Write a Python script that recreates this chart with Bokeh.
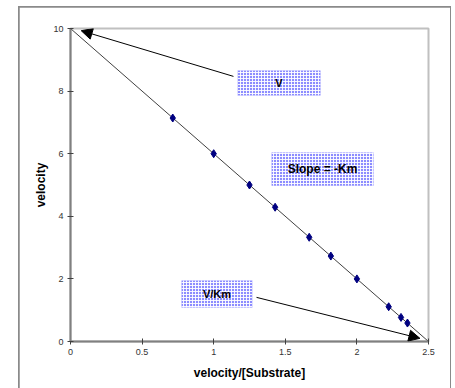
from bokeh.plotting import figure
from bokeh.models import (BoxAnnotation, Label, Arrow, NormalHead, FixedTicker, Range1d)
from bokeh.embed import file_html
from bokeh.resources import INLINE

# Eadie-Hofstee data: velocity against velocity/[Substrate]
v_over_s = [0.714, 1.0, 1.25, 1.429, 1.667, 1.818, 2.0, 2.222, 2.308, 2.353]
velocity = [7.14, 6.0, 5.0, 4.29, 3.33, 2.73, 2.0, 1.11, 0.77, 0.59]
v_max = 10.0
km = 4.0

x_ticks = [0, 0.5, 1, 1.5, 2, 2.5]
x_tick_labels = ["0", "0.5", "1", "1.5", "2", "2.5"]
y_ticks = [0, 2, 4, 6, 8, 10]
y_tick_labels = ["0", "2", "4", "6", "8", "10"]

# chart area starts at (19, 7) inside the page and is outlined by CSS
p = figure(width=431, height=395, output_backend="svg", toolbar_location=None,
           x_range=Range1d(0, 2.5), y_range=Range1d(0, 10),
           min_border_left=51, min_border_right=22,
           min_border_top=21, min_border_bottom=61)
p.margin = (7, 0, 0, 19)
p.styles = {"outline": "2px solid #8a8a8a", "outline-offset": "-1px"}
p.background_fill_color = "white"
p.border_fill_color = "white"
p.grid.visible = False
p.outline_line_color = "#c0c0c0"
p.outline_line_width = 2

FONT = "Liberation Sans"

for ax, ticks, labels in ((p.xaxis[0], x_ticks, x_tick_labels),
                          (p.yaxis[0], y_ticks, y_tick_labels)):
    ax.ticker = FixedTicker(ticks=ticks)
    ax.major_label_overrides = {t: s for t, s in zip(ticks, labels)}
    ax.minor_tick_line_color = None
    ax.axis_line_color = "#808080"
    ax.axis_line_width = 2
    ax.major_tick_line_color = "#404040"
    ax.major_tick_in = 3
    ax.major_tick_out = 3
    ax.major_label_text_font = FONT
    ax.major_label_text_font_size = "9px"
    ax.major_label_text_color = "#333333"
    ax.major_label_standoff = 4
    ax.axis_label_text_font = FONT
    ax.axis_label_text_font_size = "12px"
    ax.axis_label_text_font_style = "bold"
    ax.axis_label_text_color = "black"

p.xaxis.axis_label = "velocity/[Substrate]"
p.xaxis.axis_label_standoff = 8
p.yaxis.axis_label = "velocity"
p.yaxis.axis_label_standoff = 2

# fitted line: intercept V on the y axis, V/Km on the x axis
p.line([0, v_max / km], [v_max, 0], line_color="#404040", line_width=1)

p.scatter(v_over_s, velocity, marker="diamond", size=8,
          fill_color="#000080", line_color="#000080")

# labelled hatched boxes
def hatched_box(left, right, bottom, top, text, size="11px"):
    p.add_layout(BoxAnnotation(left=left, right=right, bottom=bottom, top=top,
                               fill_color="#8c8cff", fill_alpha=1.0,
                               hatch_pattern="+", hatch_color="white",
                               hatch_scale=3, hatch_weight=1, hatch_alpha=0.9,
                               line_color=None))
    p.add_layout(Label(x=(left + right) / 2, y=(bottom + top) / 2, text=text,
                       text_align="center", text_baseline="middle",
                       text_font=FONT, text_font_size=size,
                       text_font_style="bold", text_color="black"))

hatched_box(1.166, 1.746, 7.86, 8.66, "V")
hatched_box(1.404, 2.116, 4.98, 6.04, "Slope = -Km", "12px")
hatched_box(0.775, 1.271, 1.086, 1.95, "V/Km")

def arrow(x0, y0, x1, y1):
    p.add_layout(Arrow(x_start=x0, y_start=y0, x_end=x1, y_end=y1,
                       line_color="black", line_width=1,
                       end=NormalHead(size=11, fill_color="black",
                                      line_color="black", line_width=1)))

arrow(1.138, 8.47, 0.075, 9.93)
arrow(1.299, 1.41, 2.44, 0.1)

open("out.html", "w").write(file_html(p, INLINE))
